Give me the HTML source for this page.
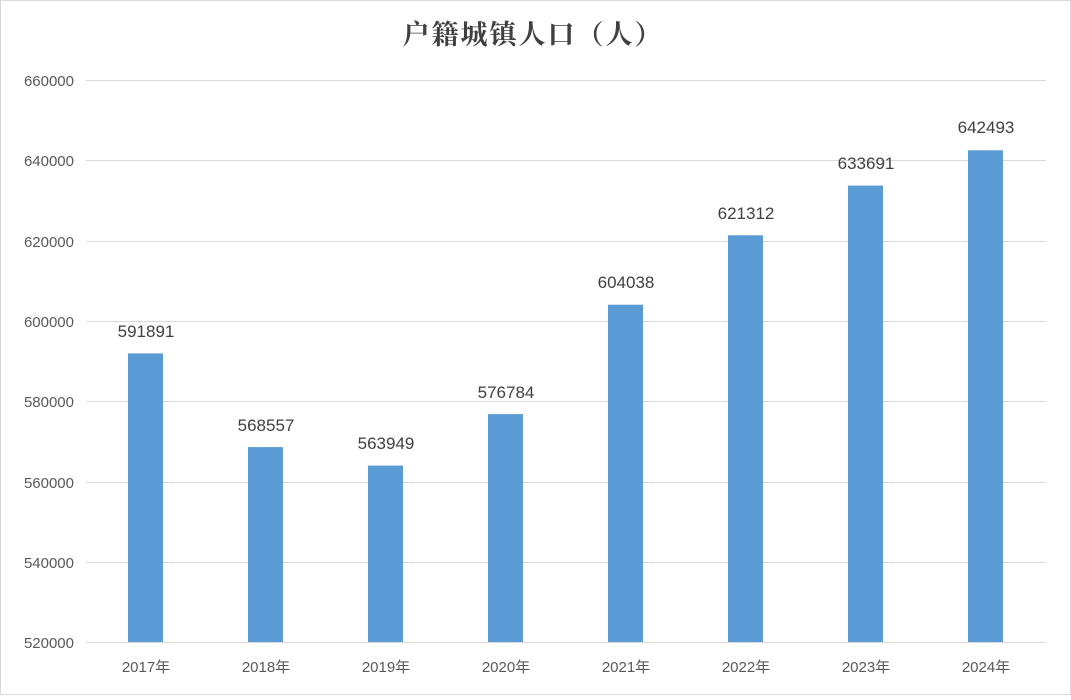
<!DOCTYPE html>
<html><head><meta charset="utf-8"><style>
body{margin:0;background:#fff}
</style></head><body>
<svg width="1071" height="695" xmlns="http://www.w3.org/2000/svg" font-family="Liberation Sans, Noto Sans CJK SC, sans-serif">
<rect x="0.5" y="0.5" width="1070" height="694" fill="#fff" stroke="#d9d9d9"/>
<text x="533" y="44" text-anchor="middle" font-size="27" font-weight="bold" fill="#404040" font-family="Noto Serif CJK SC, Noto Sans CJK SC, serif" letter-spacing="2">户籍城镇人口（人）</text>
<g stroke="#d9d9d9" stroke-width="1">
<line x1="86" x2="1046" y1="80.5" y2="80.5"/>
<line x1="86" x2="1046" y1="160.5" y2="160.5"/>
<line x1="86" x2="1046" y1="241.5" y2="241.5"/>
<line x1="86" x2="1046" y1="321.5" y2="321.5"/>
<line x1="86" x2="1046" y1="401.5" y2="401.5"/>
<line x1="86" x2="1046" y1="482.5" y2="482.5"/>
<line x1="86" x2="1046" y1="562.5" y2="562.5"/>
<line x1="86" x2="1046" y1="642.5" y2="642.5"/>
</g>
<g font-size="15" fill="#595959" text-anchor="end">
<text x="74" y="86">660000</text>
<text x="74" y="166">640000</text>
<text x="74" y="247">620000</text>
<text x="74" y="327">600000</text>
<text x="74" y="407">580000</text>
<text x="74" y="488">560000</text>
<text x="74" y="568">540000</text>
<text x="74" y="648">520000</text>
</g>
<g fill="#5b9bd5">
<rect x="128" y="353.4" width="35" height="288.6"/>
<rect x="248" y="447.1" width="35" height="194.9"/>
<rect x="368" y="465.6" width="35" height="176.4"/>
<rect x="488" y="414.1" width="35" height="227.9"/>
<rect x="608" y="304.7" width="35" height="337.3"/>
<rect x="728" y="235.3" width="35" height="406.7"/>
<rect x="848" y="185.6" width="35" height="456.4"/>
<rect x="968" y="150.3" width="35" height="491.7"/>
</g>
<g font-size="17" fill="#404040" text-anchor="middle">
<text x="146" y="337">591891</text>
<text x="266" y="431">568557</text>
<text x="386" y="449">563949</text>
<text x="506" y="398">576784</text>
<text x="626" y="288">604038</text>
<text x="746" y="219">621312</text>
<text x="866" y="169">633691</text>
<text x="986" y="133">642493</text>
</g>
<g font-size="15" fill="#595959" text-anchor="middle">
<text x="146" y="672">2017年</text>
<text x="266" y="672">2018年</text>
<text x="386" y="672">2019年</text>
<text x="506" y="672">2020年</text>
<text x="626" y="672">2021年</text>
<text x="746" y="672">2022年</text>
<text x="866" y="672">2023年</text>
<text x="986" y="672">2024年</text>
</g>
</svg>
</body></html>
